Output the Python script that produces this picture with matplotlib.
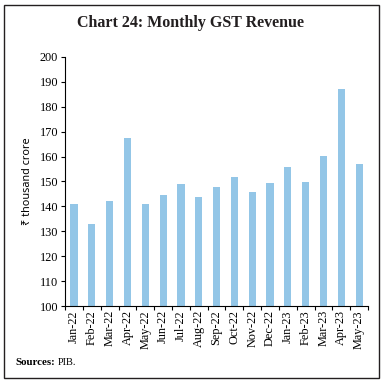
import numpy as np
import matplotlib
matplotlib.use('Agg')
import matplotlib.pyplot as plt
from matplotlib.patches import Rectangle

months = ['Jan-22', 'Feb-22', 'Mar-22', 'Apr-22', 'May-22', 'Jun-22', 'Jul-22', 'Aug-22',
          'Sep-22', 'Oct-22', 'Nov-22', 'Dec-22', 'Jan-23', 'Feb-23', 'Mar-23', 'Apr-23', 'May-23']
# GST revenue, thousand crore
revenue = [141.0, 133.0, 142.1, 167.5, 140.9, 144.6, 149.0, 143.6,
           147.7, 151.7, 145.9, 149.5, 155.9, 149.6, 160.1, 187.0, 157.1]
yticks = list(range(100, 201, 10))

serif = ['Liberation Serif', 'DejaVu Serif']

fig = plt.figure(figsize=(3.83, 3.84), dpi=100)
ax = fig.add_axes([0.170, 0.203, 0.791, 0.649])

x = np.arange(len(months))
ax.bar(x, revenue, width=0.4, color='#93c6e7', zorder=2)

ax.set_xlim(-0.5, len(months) - 0.5)
ax.set_ylim(100, 200)
ax.set_yticks(yticks)
ax.set_yticklabels([str(v) for v in yticks], fontfamily=serif, fontsize=8.8)
ax.set_xticks(x)
ax.set_xticklabels(months, rotation=90, fontfamily=serif, fontsize=8.8)
ax.tick_params(axis='x', length=0, pad=3)
# boundary ticks between categories
ax.set_xticks(np.arange(-0.5, len(months), 1.0), minor=True)
ax.tick_params(axis='x', which='minor', length=3, width=0.8, direction='out')
ax.tick_params(axis='y', length=3, width=0.8, direction='out', pad=2)

for s in ['top', 'right']:
    ax.spines[s].set_visible(False)
for s in ['left', 'bottom']:
    ax.spines[s].set_linewidth(0.8)

ax.set_ylabel('₹ thousand crore', fontfamily=['Noto Sans', 'DejaVu Sans'], fontsize=7.8, labelpad=5)

fig.text(0.497, 0.940, 'Chart 24: Monthly GST Revenue', ha='center', va='center',
         fontfamily=serif, fontsize=11.5, fontweight='bold', color='#231f20')
fig.text(0.040, 0.055, 'Sources:', ha='left', va='center', fontfamily=serif,
         fontsize=7.8, fontweight='bold')
fig.text(0.152, 0.055, 'PIB.', ha='left', va='center', fontfamily=serif, fontsize=7.5)

fig.patches.append(Rectangle((0.011, 0.016), 0.978, 0.970, transform=fig.transFigure,
                             fill=False, edgecolor='#231f20', linewidth=1.0))

fig.savefig('out.png', dpi=100)
